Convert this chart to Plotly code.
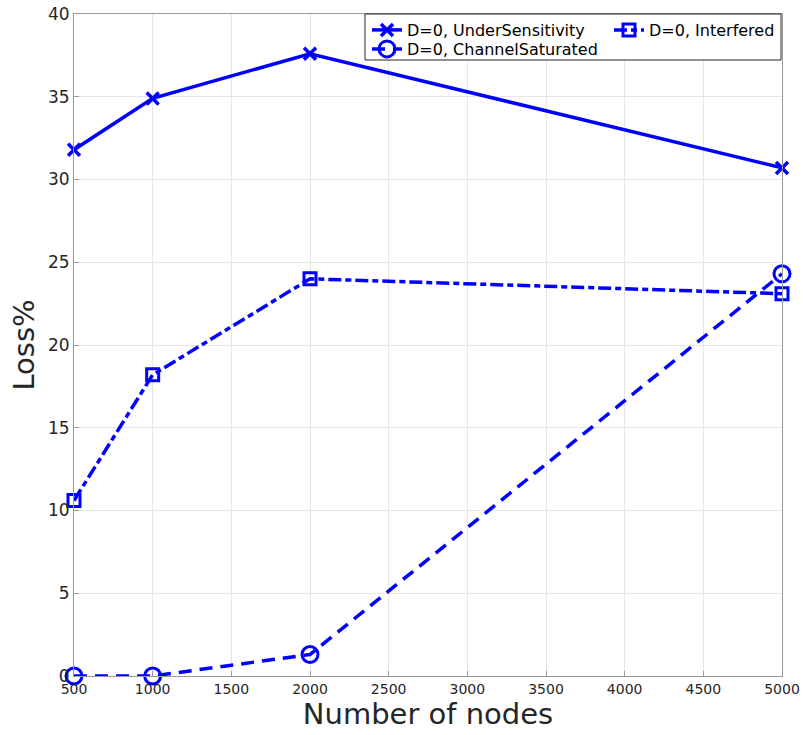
import plotly.graph_objects as go

nodes = [500, 1000, 2000, 5000]
under_sensitivity = [31.8, 34.9, 37.6, 30.7]
interfered = [10.6, 18.2, 24.0, 23.1]
channel_saturated = [0.0, 0.0, 1.3, 24.3]

x_ticks = [500, 1000, 1500, 2000, 2500, 3000, 3500, 4000, 4500, 5000]
y_ticks = [0, 5, 10, 15, 20, 25, 30, 35, 40]

BLUE = "#0000ff"
FONT = "DejaVu Sans"
L, R, T, B = 74, 21, 14, 59
W, H = 803, 735
PW, PH = W - L - R, H - T - B


def px_x(p):
    return (p - L) / PW


def px_y(p):
    return (H - B - p) / PH


fig = go.Figure()
fig.add_trace(go.Scatter(
    x=nodes, y=under_sensitivity, name="D=0, UnderSensitivity", legend="legend",
    mode="lines+markers", cliponaxis=False,
    line=dict(color=BLUE, width=3.5),
    marker=dict(symbol="x-thin", size=12, line=dict(color=BLUE, width=3.5)),
))
fig.add_trace(go.Scatter(
    x=nodes, y=interfered, name="D=0, Interfered", legend="legend2",
    mode="lines+markers", cliponaxis=False,
    line=dict(color=BLUE, width=3.5, dash="13px,4px,6px,4px"),
    marker=dict(symbol="square-open", size=12, color=BLUE, line=dict(color=BLUE, width=3)),
))
fig.add_trace(go.Scatter(
    x=nodes, y=channel_saturated, name="D=0, ChannelSaturated", legend="legend3",
    mode="lines+markers", cliponaxis=False,
    line=dict(color=BLUE, width=3.5, dash="13px,8px"),
    marker=dict(symbol="circle-open", size=16, color=BLUE, line=dict(color=BLUE, width=3)),
))

legend_font = dict(family=FONT, size=16, color="#000000")


def leg(xp, yp):
    return dict(
        orientation="v", x=px_x(xp), xanchor="left", y=px_y(yp), yanchor="top",
        bgcolor="rgba(0,0,0,0)", borderwidth=0, font=legend_font,
        tracegroupgap=0, itemwidth=30,
    )


fig.update_layout(
    width=W, height=H,
    margin=dict(l=L, r=R, t=T, b=B, autoexpand=False),
    paper_bgcolor="white", plot_bgcolor="white",
    font=dict(family=FONT, color="#262626", size=14),
    showlegend=True,
    legend=leg(367, 13),
    legend2=leg(609, 13),
    legend3=leg(367, 32),
    shapes=[dict(
        type="rect", xref="paper", yref="paper",
        x0=px_x(365), x1=px_x(781), y0=px_y(60), y1=px_y(14),
        line=dict(color="#262626", width=1), fillcolor="white", layer="above",
    )],
)
fig.update_xaxes(
    range=[500, 5000], tickvals=x_ticks, ticktext=[str(v) for v in x_ticks],
    showgrid=True, gridcolor="#e6e6e6", gridwidth=1,
    showline=True, linecolor="#9a9a9a", linewidth=1, mirror=True,
    ticks="inside", ticklen=5, tickcolor="#9a9a9a",
    zeroline=False, automargin=False,
    tickfont=dict(family=FONT, size=14, color="#262626"),
    title=dict(text="Number of nodes", font=dict(family=FONT, size=29, color="#262626"), standoff=4),
)
fig.update_yaxes(
    range=[0, 40], tickvals=y_ticks, ticktext=[str(v) for v in y_ticks],
    showgrid=True, gridcolor="#e6e6e6", gridwidth=1,
    showline=True, linecolor="#9a9a9a", linewidth=1, mirror=True,
    ticks="inside", ticklen=5, tickcolor="#9a9a9a",
    zeroline=False, automargin=False,
    tickfont=dict(family=FONT, size=17, color="#262626"),
    title=dict(text="Loss%", font=dict(family=FONT, size=29, color="#262626"), standoff=4),
)

fig.write_html("out.html")
